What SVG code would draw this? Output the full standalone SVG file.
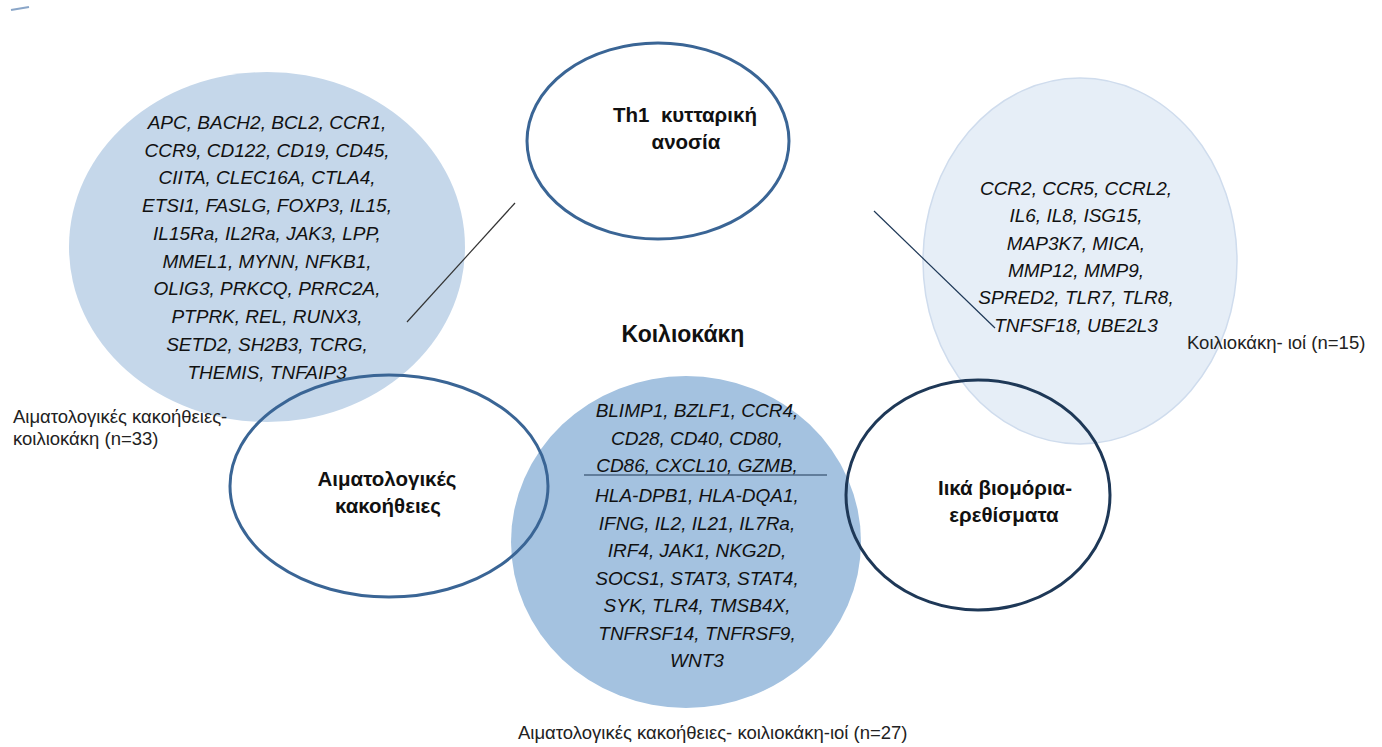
<svg xmlns="http://www.w3.org/2000/svg" width="1382" height="747" viewBox="0 0 1382 747">
<style>
.genes{font-family:"Liberation Sans",Arial,sans-serif;font-style:italic;font-size:19px;fill:#111;text-anchor:middle}
.title{font-family:"Liberation Sans",Arial,sans-serif;font-weight:bold;font-size:20.5px;fill:#111;text-anchor:middle;white-space:pre}
.lbl{font-family:"Liberation Sans",Arial,sans-serif;font-size:18.5px;fill:#222}
.ring{fill:none;stroke-width:3}
</style>
<rect width="1382" height="747" fill="#ffffff"/>
<path d="M11 10 L29 7" stroke="#8aa6c8" stroke-width="2" fill="none"/>
<g id="node-hemcel">
<ellipse cx="267" cy="247" rx="198" ry="175" fill="#c5d7ea"/>
<text class="genes"><tspan x="267" y="129">APC, BACH2, BCL2, CCR1,</tspan><tspan x="267" y="157">CCR9, CD122, CD19, CD45,</tspan><tspan x="267" y="184">CIITA, CLEC16A, CTLA4,</tspan><tspan x="267" y="212">ETSI1, FASLG, FOXP3, IL15,</tspan><tspan x="267" y="240">IL15Ra, IL2Ra, JAK3, LPP,</tspan><tspan x="267" y="268">MMEL1, MYNN, NFKB1,</tspan><tspan x="267" y="295">OLIG3, PRKCQ, PRRC2A,</tspan><tspan x="267" y="323">PTPRK, REL, RUNX3,</tspan><tspan x="267" y="351">SETD2, SH2B3, TCRG,</tspan><tspan x="267" y="379">THEMIS, TNFAIP3</tspan></text>
</g>
<g id="node-celvir">
<ellipse cx="1080" cy="261" rx="157" ry="183" fill="#e6eef7" stroke="#cfdced" stroke-width="1.5"/>
<text class="genes"><tspan x="1076" y="195">CCR2, CCR5, CCRL2,</tspan><tspan x="1076" y="222">IL6, IL8, ISG15,</tspan><tspan x="1076" y="250">MAP3K7, MICA,</tspan><tspan x="1076" y="277">MMP12, MMP9,</tspan><tspan x="1076" y="304">SPRED2, TLR7, TLR8,</tspan><tspan x="1076" y="332">TNFSF18, UBE2L3</tspan></text>
</g>
<g id="node-all">
<ellipse cx="686" cy="542" rx="175" ry="166" fill="#a4c2e0"/>
<text class="genes"><tspan x="697" y="417">BLIMP1, BZLF1, CCR4,</tspan><tspan x="697" y="445">CD28, CD40, CD80,</tspan><tspan x="697" y="472">CD86, CXCL10, GZMB,</tspan><tspan x="697" y="502">HLA-DPB1, HLA-DQA1,</tspan><tspan x="697" y="530">IFNG, IL2, IL21, IL7Ra,</tspan><tspan x="697" y="557">IRF4, JAK1, NKG2D,</tspan><tspan x="697" y="585">SOCS1, STAT3, STAT4,</tspan><tspan x="697" y="612">SYK, TLR4, TMSB4X,</tspan><tspan x="697" y="640">TNFRSF14, TNFRSF9,</tspan><tspan x="697" y="667">WNT3</tspan></text>
</g>
<g id="node-th1">
<ellipse class="ring" cx="658" cy="141" rx="131" ry="98" stroke="#3a6595"/>
<text class="title"><tspan x="685" y="122">Th1  κυτταρική</tspan><tspan x="686" y="149">ανοσία</tspan></text>
</g>
<g id="node-hem">
<ellipse class="ring" cx="389" cy="486" rx="159" ry="111" stroke="#3a6595"/>
<text class="title"><tspan x="387" y="486">Αιματολογικές</tspan><tspan x="388" y="513">κακοήθειες</tspan></text>
</g>
<g id="node-vir">
<ellipse class="ring" cx="978" cy="495" rx="132" ry="115" stroke="#1e3857"/>
<text class="title"><tspan x="1005" y="495">Ιικά βιομόρια-</tspan><tspan x="1004" y="522">ερεθίσματα</tspan></text>
</g>
<g id="node-celiac">
<text class="title" x="683" y="342" style="font-size:23px">Κοιλιοκάκη</text>
</g>
<g id="connectors">
<line x1="515" y1="203" x2="407" y2="322" stroke="#333" stroke-width="1.2"/>
<line x1="874" y1="211" x2="995" y2="328" stroke="#1e3857" stroke-width="1.2"/>
<line x1="584" y1="475" x2="827" y2="475" stroke="#1e3857" stroke-width="1.2"/>
</g>
<g id="labels">
<text class="lbl"><tspan x="13" y="423">Αιματολογικές κακοήθειες-</tspan><tspan x="13" y="445">κοιλιοκάκη (n=33)</tspan></text>
<text class="lbl" x="1187" y="349">Κοιλιοκάκη- ιοί (n=15)</text>
<text class="lbl" x="518" y="739">Αιματολογικές κακοήθειες- κοιλιοκάκη-ιοί (n=27)</text>
</g>
</svg>
